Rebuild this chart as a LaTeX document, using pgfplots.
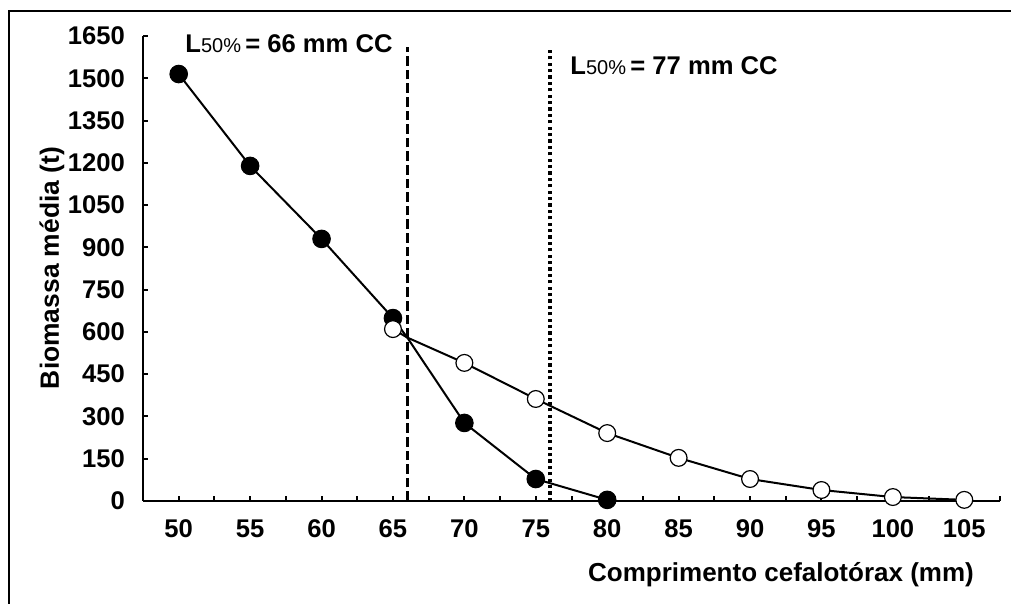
\documentclass[border=0pt]{standalone}
\usepackage{fontspec}
\setmainfont{Liberation Sans}
\usepackage{pgfplots}
\pgfplotsset{compat=1.18}

\begin{document}
\begin{tikzpicture}
\useasboundingbox (0,0) rectangle (505.5pt,302pt);
% outer frame (left and top only visible)
\draw[line width=0.7pt] (4.5pt,0) -- (4.5pt,296.5pt) -- (505.5pt,296.5pt);

\begin{axis}[
  at={(71.5pt,51.5pt)}, anchor=south west,
  scale only axis, width=428.5pt, height=232.5pt,
  xmin=47.5, xmax=107.5, ymin=0, ymax=1650,
  axis lines=left, axis line style={-, line width=1pt},
  xtick={50,55,...,105}, minor xtick={52.5,57.5,...,107.5},
  ytick={0,150,...,1650},
  tick align=inside, major tick length=2.6pt, minor tick length=2.6pt,
  every tick/.style={black, line width=1pt},
  tick label style={font=\fontsize{12.8}{14}\selectfont\bfseries},
  /pgf/number format/assume math mode=true,
  /pgf/number format/1000 sep={},
  yticklabel style={xshift=-5.5pt},
  xticklabel style={yshift=-6pt},
  clip=false,
]
% reference lines for L50%
\addplot[black, line width=1.7pt, dash pattern=on 4.8pt off 2pt] coordinates {(66,0) (66,1610)};
\addplot[black, line width=1.6pt, dash pattern=on 1.6pt off 1.6pt] coordinates {(76,0) (76,1610)};

% filled series
\addplot[black, line width=1pt, mark=*, mark size=4.4pt,
  mark options={fill=black, draw=black, line width=0.5pt},
  mark indices={1,2,3,4,6,7,8}] coordinates {
  (50,1515) (55,1189) (60,930) (65,649) (66,580) (70,277) (75,78) (80,4)
};
% open series
\addplot[black, line width=1pt, mark=*, mark size=4.2pt,
  mark options={fill=white, draw=black, line width=0.6pt},
  mark indices={1,3,4,5,6,7,8,9,10}] coordinates {
  (65,610) (66,580) (70,490) (75,362) (80,241) (85,153) (90,78) (95,39) (100,14) (105,4)
};

\node[anchor=base west, inner sep=0pt, font=\fontsize{12.8}{14}\selectfont] at (axis cs:50.44,1590)
  {\textbf{L}{\fontsize{10}{11}\selectfont 50\%}\textbf{\,= 66 mm CC}};
\node[anchor=base west, inner sep=0pt, font=\fontsize{12.8}{14}\selectfont] at (axis cs:77.4,1512)
  {\textbf{L}{\fontsize{10}{11}\selectfont 50\%}\textbf{\,= 77 mm CC}};
\end{axis}

\node[rotate=90, font=\fontsize{13.2}{15}\selectfont\bfseries] at (26pt,168pt) {Biomassa média (t)};
\node[font=\fontsize{13}{15}\selectfont\bfseries] at (390.5pt,14.5pt) {Comprimento cefalotórax (mm)};
\end{tikzpicture}
\end{document}
